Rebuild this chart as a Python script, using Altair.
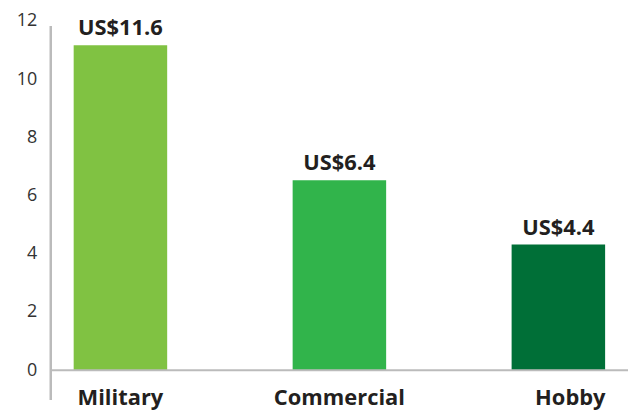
import altair as alt
import pandas as pd

categories = ["Military", "Commercial", "Hobby"]
values = [11.16, 6.53, 4.32]
labels = ["US$11.6", "US$6.4", "US$4.4"]
colors = ["#80c242", "#31b44b", "#006f37"]
y_ticks = [0, 2, 4, 6, 8, 10, 12]

df = pd.DataFrame({"cat": categories, "val": values, "lab": labels})

FONT = "Open Sans"
W, H = 580, 351

x = alt.X(
    "cat:N",
    sort=categories,
    scale=alt.Scale(paddingInner=0.573, paddingOuter=0.1045),
    axis=alt.Axis(
        title=None, domain=False, ticks=False, labelAngle=0,
        labelFont=FONT, labelFontSize=22, labelFontWeight="bold",
        labelColor="#231f20", labelPadding=17,
        labelOffset={"condition": {"test": "datum.value == 'Hobby'", "value": 12}, "value": 0},
    ),
)
y = alt.Y(
    "val:Q",
    scale=alt.Scale(domain=[0, 12], nice=False),
    axis=alt.Axis(
        title=None, domain=False, ticks=False, grid=False, values=y_ticks,
        labelFont=FONT, labelFontSize=18, labelColor="#333333", labelPadding=14,
    ),
)

bars = alt.Chart(df).mark_bar().encode(
    x=x,
    y=y,
    color=alt.Color("cat:N", scale=alt.Scale(domain=categories, range=colors), legend=None),
)

text = alt.Chart(df).mark_text(
    font=FONT, fontSize=22, fontWeight="bold", color="#231f20", baseline="alphabetic", dy=-10
).encode(x=alt.X("cat:N", sort=categories), y="val:Q", text="lab:N")

yline = alt.Chart(df).mark_rule(color="#bbbbbb", strokeWidth=2).encode(
    x=alt.value(0), y=alt.value(5), y2=alt.value(381)
)
base = alt.Chart(pd.DataFrame({"z": [0]})).mark_rule(color="#bbbbbb", strokeWidth=2).encode(
    y="z:Q", x=alt.value(0), x2=alt.value(590)
)

chart = alt.layer(bars, text, yline, base).properties(
    width=W, height=H,
    autosize=alt.AutoSizeParams(type="none"),
    padding={"left": 43, "top": 12, "right": 0, "bottom": 42},
).configure_view(stroke=None)

chart.save("out.html", embed_options={"renderer": "svg", "actions": False})
